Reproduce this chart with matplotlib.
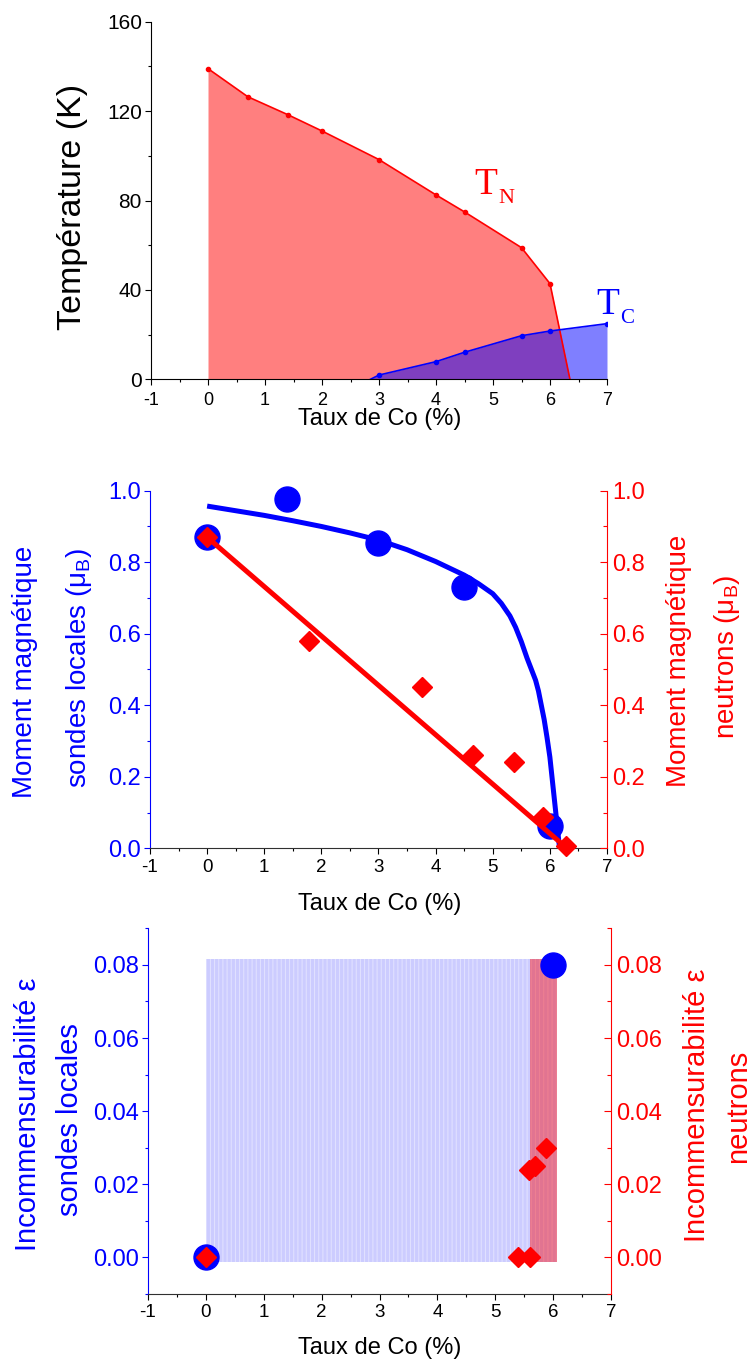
import numpy as np
import matplotlib
matplotlib.use("Agg")
import matplotlib.pyplot as plt
from matplotlib.ticker import MultipleLocator, FormatStrFormatter

plt.rcParams['font.family'] = ['Liberation Sans', 'DejaVu Sans']
plt.rcParams['hatch.linewidth'] = 0.7
plt.rcParams['axes.unicode_minus'] = False

# --- Diagramme de phase (T_N, T_C) ---
tn_x = [0, 0.7, 1.4, 2, 3, 4, 4.5, 5.5, 6, 6.35]
tn_y = [139, 126.4, 118.4, 111.1, 98.3, 82.5, 74.9, 58.9, 42.8, 0]
tc_x = [2.85, 3, 4, 4.5, 5.5, 6, 7]
tc_y = [0, 1.9, 7.9, 12.1, 19.5, 21.6, 24.9]

# --- Moments magnetiques ---
loc_x = [0, 1.4, 3, 4.5, 6]
loc_m = [0.87, 0.977, 0.853, 0.732, 0.062]
loc_fit_x = [0, 0.5, 1, 1.5, 2, 2.5, 3, 3.5, 4, 4.5, 4.75, 5, 5.15, 5.3, 5.4, 5.5,
             5.6, 5.75, 5.8, 5.9, 5.95, 6.0, 6.05, 6.1, 6.14, 6.17]
loc_fit_m = [0.957, 0.944, 0.931, 0.916, 0.900, 0.882, 0.862, 0.835, 0.802, 0.764,
             0.740, 0.712, 0.685, 0.650, 0.618, 0.578, 0.532, 0.470, 0.440, 0.360,
             0.310, 0.255, 0.180, 0.105, 0.045, 0.0]
neu_x = [0, 1.78, 3.77, 4.66, 5.37, 5.88, 6.28]
neu_m = [0.87, 0.579, 0.451, 0.261, 0.241, 0.088, 0.007]
neu_fit_x = [0, 6.3]
neu_fit_m = [0.87, 0.0]

# --- Incommensurabilite ---
eps_loc_x = [0, 6]
eps_loc = [0, 0.08]
eps_neu_x = [0, 5.4, 5.6, 5.58, 5.68, 5.88]
eps_neu = [0, 0, 0, 0.024, 0.025, 0.030]
zone_loc = (0, 6.07)
zone_neu = (5.6, 6.07)
zone_eps = (-0.0012, 0.0817)

BLUE = '#0000ff'
RED = '#ff0000'
W, H = 750, 1364

fig = plt.figure(figsize=(7.5, 13.64), dpi=100)


def px(x, y):
    return x / W, 1 - y / H


def xaxis_setup(ax, size=13.5, pad=3):
    ax.set_xlim(-1, 7)
    ax.xaxis.set_major_locator(MultipleLocator(1))
    ax.xaxis.set_minor_locator(MultipleLocator(0.5))
    ax.tick_params(axis='x', which='major', direction='out', length=4.5, width=0.8,
                   labelsize=size, pad=pad)
    ax.tick_params(axis='x', which='minor', direction='out', length=2.5, width=0.8)


def vlabel(x, y, s, color, size):
    fx, fy = px(x, y)
    fig.text(fx, fy, s, rotation=90, ha='center', va='center', color=color, fontsize=size)


# ---------- Panel 1 ----------
ax1 = fig.add_axes([151 / W, 1 - 379.3 / H, 456 / W, 357.6 / H])
ax1.fill_between(tn_x, tn_y, 0, color=RED, alpha=0.5, lw=0)
ax1.fill_between(tc_x, tc_y, 0, color=BLUE, alpha=0.5, lw=0)
ax1.plot(tn_x, tn_y, color=RED, lw=1.2, marker='o', ms=3, markevery=slice(0, -1))
ax1.plot(tc_x, tc_y, color=BLUE, lw=1.2, marker='o', ms=3, markevery=slice(1, None))
ax1.set_ylim(0, 160)
ax1.yaxis.set_major_locator(MultipleLocator(40))
ax1.yaxis.set_minor_locator(MultipleLocator(20))
ax1.tick_params(axis='y', which='major', direction='out', length=4.5, width=0.8, labelsize=15, pad=2)
ax1.tick_params(axis='y', which='minor', direction='out', length=2.5, width=0.8)
xaxis_setup(ax1, 13, pad=5)
for s in ['top', 'right']:
    ax1.spines[s].set_visible(False)
for s in ['left', 'bottom']:
    ax1.spines[s].set_linewidth(0.8)
ax1.text(4.68, 83.1, 'T', family='Liberation Serif', fontsize=27, color=RED, va='baseline')
ax1.text(5.09, 79.1, 'N', family='Liberation Serif', fontsize=16, color=RED, va='baseline')
ax1.text(6.82, 29.4, 'T', family='Liberation Serif', fontsize=27, color=BLUE, va='baseline')
ax1.text(7.23, 25.2, 'C', family='Liberation Serif', fontsize=15, color=BLUE, va='baseline')
vlabel(73, 207, 'Température (K)', 'black', 24.5)
fig.text(*px(380, 419), 'Taux de Co (%)', ha='center', va='center', fontsize=17)

# ---------- Panel 2 ----------
ax2 = fig.add_axes([150 / W, 1 - 848.3 / H, 457 / W, 357.6 / H])
ax2r = ax2.twinx()
ax2.plot(loc_fit_x, loc_fit_m, color=BLUE, lw=3.6, solid_capstyle='butt', solid_joinstyle='round')
ax2.plot(loc_x, loc_m, 'o', color=BLUE, ms=18, clip_on=False)
ax2r.plot(neu_fit_x, neu_fit_m, color=RED, lw=3.6, solid_capstyle='butt')
ax2r.plot(neu_x, neu_m, 'D', color=RED, ms=10, clip_on=False)
for a in (ax2, ax2r):
    a.set_ylim(0, 1)
    a.yaxis.set_major_locator(MultipleLocator(0.2))
    a.yaxis.set_minor_locator(MultipleLocator(0.1))
    a.yaxis.set_major_formatter(FormatStrFormatter('%.1f'))
ax2.tick_params(axis='y', which='major', direction='out', length=4.5, width=0.8,
                labelsize=17, pad=2, colors=BLUE)
ax2.tick_params(axis='y', which='minor', direction='out', length=2.5, width=0.8, colors=BLUE)
ax2r.tick_params(axis='y', which='major', direction='in', length=5, width=0.8,
                 labelsize=17, pad=4, colors=RED)
ax2r.tick_params(axis='y', which='minor', direction='in', length=3, width=0.8, colors=RED)
xaxis_setup(ax2)
ax2.spines['left'].set_color(BLUE)
ax2r.spines['right'].set_color(RED)
for s in ['top', 'right']:
    ax2.spines[s].set_visible(False)
for s in ['top', 'left', 'bottom']:
    ax2r.spines[s].set_visible(False)
ax2.spines['bottom'].set_color('#303030')
for sp in list(ax2.spines.values()) + list(ax2r.spines.values()):
    sp.set_linewidth(0.8)
vlabel(25, 672, 'Moment magnétique', BLUE, 20)
vlabel(79, 668, r'sondes locales (μ$_\mathregular{B}$)', BLUE, 20)
vlabel(679, 661, 'Moment magnétique', RED, 20)
vlabel(727, 657, r'neutrons (μ$_\mathregular{B}$)', RED, 20)
fig.text(*px(380, 904), 'Taux de Co (%)', ha='center', va='center', fontsize=17)

# ---------- Panel 3 ----------
ax3 = fig.add_axes([148 / W, 1 - 1294 / H, 463 / W, 365.7 / H])
ax3r = ax3.twinx()
ax3.fill_between(zone_loc, zone_eps[0], zone_eps[1], facecolor=(0, 0, 1, 0.2),
                 edgecolor=(1, 1, 1, 0.45), hatch='||||', lw=0)
ax3.fill_between(zone_neu, zone_eps[0], zone_eps[1], facecolor=(1, 0, 0, 0.43), lw=0)
ax3.plot(eps_loc_x, eps_loc, 'o', color=BLUE, ms=18, clip_on=False)
ax3r.plot(eps_neu_x, eps_neu, 'D', color=RED, ms=10, clip_on=False)
for a in (ax3, ax3r):
    a.set_ylim(-0.01, 0.09)
    a.yaxis.set_major_locator(MultipleLocator(0.02))
    a.yaxis.set_minor_locator(MultipleLocator(0.01))
    a.yaxis.set_major_formatter(FormatStrFormatter('%.2f'))
ax3.tick_params(axis='y', which='major', direction='out', length=4.5, width=0.8,
                labelsize=17, pad=2, colors=BLUE)
ax3.tick_params(axis='y', which='minor', direction='out', length=2.5, width=0.8, colors=BLUE)
ax3r.tick_params(axis='y', which='major', direction='in', length=5, width=0.8,
                 labelsize=17, pad=4, colors=RED)
ax3r.tick_params(axis='y', which='minor', direction='in', length=3, width=0.8, colors=RED)
xaxis_setup(ax3)
ax3.spines['left'].set_color(BLUE)
ax3r.spines['right'].set_color(RED)
for s in ['top', 'right']:
    ax3.spines[s].set_visible(False)
for s in ['top', 'left', 'bottom']:
    ax3r.spines[s].set_visible(False)
ax3.spines['bottom'].set_color('#303030')
for sp in list(ax3.spines.values()) + list(ax3r.spines.values()):
    sp.set_linewidth(0.8)
vlabel(28, 1114, 'Incommensurabilité ε', BLUE, 21)
vlabel(70, 1120, 'sondes locales', BLUE, 21)
vlabel(697, 1105, 'Incommensurabilité ε', RED, 21)
vlabel(738, 1106, 'neutrons', RED, 21)
fig.text(*px(380, 1348), 'Taux de Co (%)', ha='center', va='center', fontsize=17)

fig.savefig('out.png', dpi=100)
